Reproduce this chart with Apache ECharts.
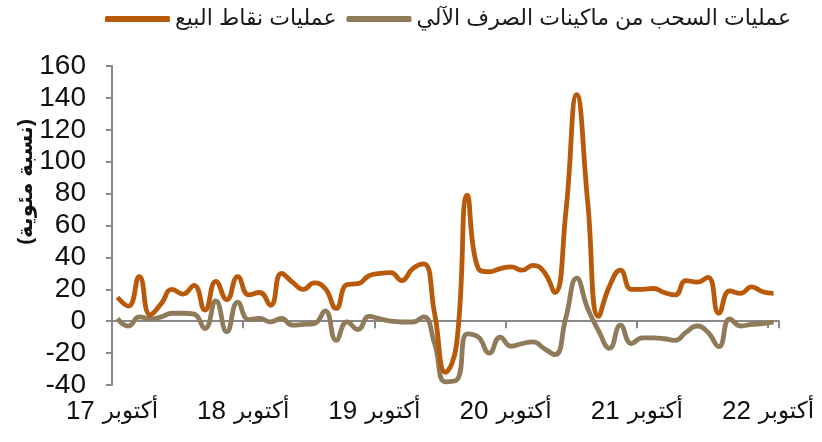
<!DOCTYPE html>
<html>
<head>
<meta charset="utf-8">
<script src="https://cdn.jsdelivr.net/npm/echarts@6/dist/echarts.min.js"></script>
<style>
  html, body { margin: 0; padding: 0; background: #fff; }
  #chart { width: 822px; height: 442px; }
</style>
</head>
<body>
<div id="chart"></div>
<script>
// monthly, Oct 2017 - Oct 2022
const months = [
  '2017-10','2017-11','2017-12','2018-01','2018-02','2018-03','2018-04','2018-05','2018-06','2018-07','2018-08','2018-09',
  '2018-10','2018-11','2018-12','2019-01','2019-02','2019-03','2019-04','2019-05','2019-06','2019-07','2019-08','2019-09',
  '2019-10','2019-11','2019-12','2020-01','2020-02','2020-03','2020-04','2020-05','2020-06','2020-07','2020-08','2020-09',
  '2020-10','2020-11','2020-12','2021-01','2021-02','2021-03','2021-04','2021-05','2021-06','2021-07','2021-08','2021-09',
  '2021-10','2021-11','2021-12','2022-01','2022-02','2022-03','2022-04','2022-05','2022-06','2022-07','2022-08','2022-09',
  '2022-10'
]

// tick labels: month word + two-digit year
const tickMonth = 'أكتوبر'
const tickYears = ['17', '18', '19', '20', '21', '22']

const posName = 'عمليات نقاط البيع'
const atmName = 'عمليات السحب من ماكينات الصرف الآلي'
const yTitle = '(نسبة مئوية)'

const posValues = [
  15, 9.5, 28, 4, 11, 20, 17, 22.5, 7, 25, 13.5, 28,
  16.5, 18, 10, 30, 24.5, 20, 24, 20.5, 8, 23, 23.5, 28.5,
  30, 30.5, 25.5, 33, 36, 5, -32, -15, 79, 33, 31, 33,
  34, 32, 35, 31, 18, 68, 142, 75, 3, 22, 32, 20,
  20, 20.5, 18, 16.5, 25.5, 24.5, 27.5, 5, 19, 17.5, 21.5, 18.5,
  17.5
]

const atmValues = [
  1.7, -3, 2.7, 1.5, 2.7, 5, 5, 4.5, -4.6, 12.7, -6.7, 12,
  1, 1.7, -0.4, 1.7, -2.5, -2, -1.5, 6.5, -12, -0.4, -5.2, 3,
  1.5, 0, -0.5, -0.5, 2.7, -14, -38, -37, -8, -10, -20, -10,
  -15.7, -14, -13, -17, -21, 2, 27, 8, -6, -17, -2.5, -14,
  -10.5, -10.5, -11, -12, -7, -3, -7, -16, 1.5, -3, -2, -1.5,
  -0.5
]

const fontFamily = '"Liberation Sans", Arial, "DejaVu Sans", sans-serif'
const axisGrey = '#898989'

const chart = echarts.init(document.getElementById('chart'))

chart.setOption({
  animation: false,
  textStyle: { fontFamily: fontFamily },
  legend: {
    data: [posName, atmName],
    left: 100,
    top: 3,
    itemWidth: 65,
    itemHeight: 6,
    itemGap: 10,
    icon: 'roundRect',
    textStyle: { fontSize: 22, color: '#1a1a1a', fontFamily: fontFamily }
  },
  graphic: [
    {
      type: 'text',
      x: 26,
      y: 182,
      rotation: Math.PI / 2,
      style: {
        text: yTitle,
        fontSize: 21,
        fontWeight: 'bold',
        fill: '#111',
        fontFamily: fontFamily,
        align: 'center',
        verticalAlign: 'middle'
      }
    }
  ],
  grid: { left: 112, right: 43, top: 66, bottom: 57 },
  xAxis: [
    {
      type: 'category',
      data: months,
      boundaryGap: true,
      axisLine: { onZero: true, lineStyle: { color: axisGrey, width: 2 } },
      axisTick: { show: true, interval: 11, length: 7, lineStyle: { color: axisGrey, width: 2 } },
      axisLabel: { show: false },
      splitLine: { show: false }
    },
    {
      type: 'category',
      data: months,
      boundaryGap: true,
      position: 'bottom',
      axisLine: { show: false, onZero: false },
      axisTick: { show: false },
      axisLabel: {
        interval: 11,
        margin: 14,
        color: '#111',
        padding: [0, 11, 0, 0],
        formatter: (v, i) => '{n|' + tickYears[Math.round(i / 12)] + '}{s| }{m|' + tickMonth + '}',
        rich: {
          n: { fontSize: 26, fontFamily: fontFamily, color: '#111' },
          s: { fontSize: 26, width: 8 },
          m: { fontSize: 23, fontFamily: fontFamily, color: '#111' }
        }
      },
      splitLine: { show: false }
    }
  ],
  yAxis: {
    type: 'value',
    min: -40,
    max: 160,
    interval: 20,
    axisLine: { show: true, lineStyle: { color: axisGrey, width: 2 } },
    axisTick: { show: true, length: 6, lineStyle: { color: axisGrey, width: 2 } },
    axisLabel: { fontSize: 28, color: '#111', margin: 26 },
    splitLine: { show: false }
  },
  series: [
    {
      name: atmName,
      type: 'line',
      data: atmValues,
      smooth: 0.5,
      showSymbol: false,
      lineStyle: { width: 4.8, color: '#8f7b5a' },
      itemStyle: { color: '#8f7b5a' }
    },
    {
      name: posName,
      type: 'line',
      data: posValues,
      smooth: 0.5,
      showSymbol: false,
      lineStyle: { width: 4.8, color: '#b95a0a' },
      itemStyle: { color: '#b95a0a' }
    }
  ]
})
</script>
</body>
</html>
